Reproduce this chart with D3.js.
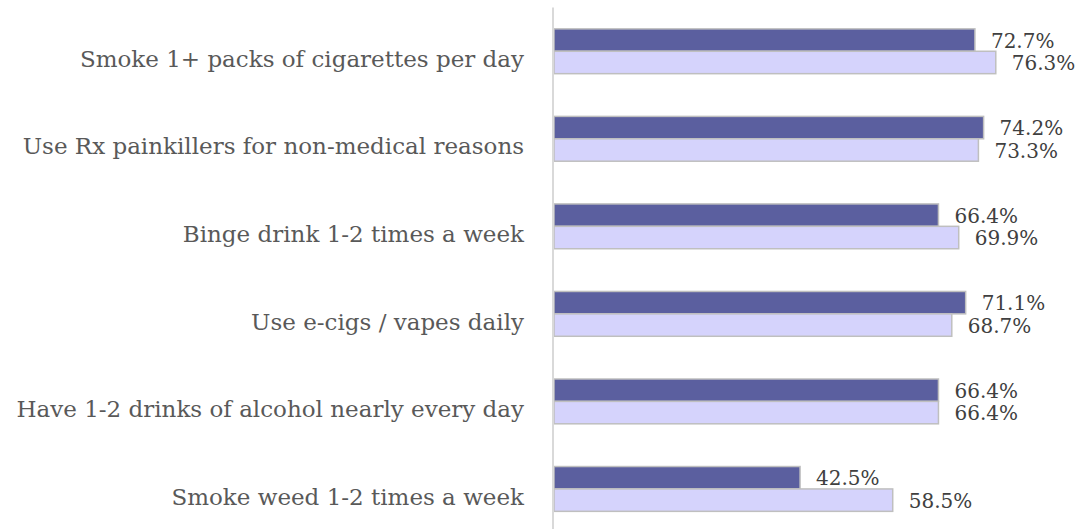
<!DOCTYPE html>
<html>
<head>
<meta charset="utf-8">
<script src="https://cdn.jsdelivr.net/npm/d3@7"></script>
<style>
  html, body { margin: 0; padding: 0; background: #ffffff; }
  svg { display: block; }
</style>
</head>
<body>
<svg id="chart" width="1077" height="529"></svg>
<script>
const categories = [
  "Smoke 1+ packs of cigarettes per day",
  "Use Rx painkillers for non-medical reasons",
  "Binge drink 1-2 times a week",
  "Use e-cigs / vapes daily",
  "Have 1-2 drinks of alcohol nearly every day",
  "Smoke weed 1-2 times a week"
];
const seriesNames = ["Series A", "Series B"];
const seriesA = [72.7, 74.2, 66.4, 71.1, 66.4, 42.5];
const seriesB = [76.3, 73.3, 69.9, 68.7, 66.4, 58.5];

const svg = d3.select("#chart");
const W = 1077, H = 529;
const x0 = 554;

const x = d3.scaleLinear().domain([0, 90]).range([x0, x0 + 90 * 5.79]);
const y = d3.scaleBand().domain(categories).range([7.5, 532.7]).paddingInner(0.488).paddingOuter(0.244);
const ySub = d3.scaleBand().domain(seriesNames).range([0, y.bandwidth()]);
const colors = { "Series A": "#5b5f9f", "Series B": "#d5d3fc" };

const rows = categories.map((c, i) => ({ cat: c, vals: [
  { s: "Series A", v: seriesA[i] },
  { s: "Series B", v: seriesB[i] }
]}));

const g = svg.selectAll("g.row").data(rows).join("g")
  .attr("class", "row")
  .attr("transform", d => `translate(0,${y(d.cat)})`);

g.selectAll("rect").data(d => d.vals).join("rect")
  .attr("x", x(0))
  .attr("y", d => ySub(d.s))
  .attr("width", d => x(d.v) - x(0))
  .attr("height", ySub.bandwidth())
  .attr("fill", d => colors[d.s])
  .attr("stroke", "#bfbfbf")
  .attr("stroke-width", 1.5);

g.selectAll("text.val").data(d => d.vals).join("text")
  .attr("class", "val")
  .attr("x", d => x(d.v) + 16)
  .attr("y", d => ySub(d.s) + ySub.bandwidth() / 2)
  .attr("dy", "0.38em")
  .attr("font-family", "'DejaVu Serif', serif")
  .attr("font-size", 20)
  .attr("fill", "#404040")
  .text(d => d.v.toFixed(1) + "%");

// category axis
const axis = d3.axisLeft(y).tickSize(0).tickPadding(29);
const ax = svg.append("g").attr("transform", `translate(${x0 - 1},0)`).call(axis);
ax.select(".domain").attr("stroke", "#d9d9d9").attr("stroke-width", 2)
  .attr("d", `M0,7.5V${H}`);
ax.selectAll(".tick text")
  .attr("font-family", "'DejaVu Serif', serif")
  .attr("font-size", 23)
  .attr("fill", "#595959")
  .attr("dy", "0.68em");
</script>
</body>
</html>
